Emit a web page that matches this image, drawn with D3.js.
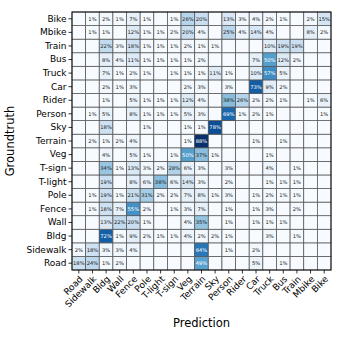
<!DOCTYPE html>
<html><head><meta charset="utf-8">
<script src="https://cdn.jsdelivr.net/npm/d3@7"></script>
<style>body{margin:0;background:#fff}svg{display:block}text{font-family:"DejaVu Sans",sans-serif}</style>
</head><body><svg id="c" width="344" height="338"></svg>
<script>
const labels = ["Road","Sidewalk","Bldg","Wall","Fence","Pole","T-light","T-sign","Veg","Terrain","Sky","Person","Rider","Car","Truck","Bus","Train","Mbike","Bike"];
// rows: groundtruth, columns: prediction (same order as labels), values in %
const rowRoad     = [18,24,1,2,0,0,0,0,0,49,0,0,0,5,0,1,0,0,0];
const rowSidewalk = [2,18,3,3,4,0,0,0,0,64,0,1,0,2,0,0,0,0,0];
const rowBldg     = [0,0,72,1,9,2,1,1,4,2,2,1,0,0,3,0,1,0,0];
const rowWall     = [0,0,13,22,20,1,0,0,4,35,0,1,0,1,1,1,0,0,0];
const rowFence    = [0,1,18,7,55,2,0,1,3,7,0,1,0,1,3,0,2,0,0];
const rowPole     = [0,1,19,1,21,31,2,2,7,8,1,3,0,1,2,1,1,0,0];
const rowTlight   = [0,0,19,0,8,6,38,6,14,3,0,2,0,0,1,1,1,0,0];
const rowTsign    = [0,0,34,1,13,3,2,28,6,3,0,3,0,0,4,0,1,0,0];
const rowVeg      = [0,0,4,0,5,1,0,1,50,37,1,0,0,0,1,0,0,0,0];
const rowTerrain  = [0,2,1,2,4,0,0,0,1,88,0,0,0,1,0,1,0,0,0];
const rowSky      = [0,0,18,0,0,1,0,0,1,1,78,0,0,0,0,0,0,0,0];
const rowPerson   = [0,1,5,0,8,1,1,1,5,3,0,69,1,2,1,0,0,0,1];
const rowRider    = [0,0,1,0,5,1,1,1,12,4,0,38,26,2,2,1,0,1,6];
const rowCar      = [0,0,2,1,3,0,0,0,2,3,0,3,0,73,9,2,0,0,0];
const rowTruck    = [0,0,7,1,2,1,0,1,1,1,11,1,0,10,57,5,0,0,0];
const rowBus      = [0,0,8,4,11,1,1,1,1,2,0,0,0,7,50,12,2,0,0];
const rowTrain    = [0,0,22,3,18,1,1,1,2,1,1,0,0,0,10,19,19,0,0];
const rowMbike    = [0,1,1,0,12,1,1,2,20,4,0,25,4,14,4,0,0,8,2];
const rowBike     = [0,1,2,1,7,1,0,1,26,20,0,13,3,4,2,1,0,2,15];
const rows = [rowRoad,rowSidewalk,rowBldg,rowWall,rowFence,rowPole,rowTlight,rowTsign,rowVeg,rowTerrain,rowSky,rowPerson,rowRider,rowCar,rowTruck,rowBus,rowTrain,rowMbike,rowBike];

const cells = [];
rows.forEach((r,i)=>r.forEach((v,j)=>cells.push({gt:labels[i],pred:labels[j],v})));
const vmax = d3.max(cells,d=>d.v);

const m = {l:72,t:12,w:259,h:258};
const svg = d3.select("#c");
const g = svg.append("g").attr("transform",`translate(${m.l},${m.t})`);
const x = d3.scaleBand().domain(labels).range([0,m.w]);
const y = d3.scaleBand().domain(labels.slice().reverse()).range([0,m.h]);
const color = v => d3.interpolateBlues(v/vmax);

g.selectAll("rect.cell").data(cells).join("rect").attr("class","cell")
 .attr("x",d=>x(d.pred)).attr("y",d=>y(d.gt))
 .attr("width",x.bandwidth()).attr("height",y.bandwidth())
 .attr("fill",d=>color(d.v)).attr("stroke","#555").attr("stroke-width",0.75);

g.selectAll("text.val").data(cells.filter(d=>d.v>0)).join("text").attr("class","val")
 .attr("x",d=>x(d.pred)+x.bandwidth()/2).attr("y",d=>y(d.gt)+y.bandwidth()/2)
 .attr("text-anchor","middle").attr("dominant-baseline","central")
 .attr("font-size",5.2).attr("fill",d=>d.v>vmax/2?"#fff":"#222")
 .text(d=>d.v+"%");

g.append("rect").attr("width",m.w).attr("height",m.h).attr("fill","none").attr("stroke","#000").attr("stroke-width",0.9);

const yAxis = g.append("g").call(d3.axisLeft(y).tickSize(3.5).tickPadding(2));
yAxis.select(".domain").remove();
yAxis.selectAll("text").attr("font-size",9).attr("fill","#000").style("font-family","DejaVu Sans");
yAxis.selectAll("line").attr("stroke","#000").attr("stroke-width",0.8);

const xAxis = g.append("g").attr("transform",`translate(0,${m.h})`).call(d3.axisBottom(x).tickSize(3.5).tickPadding(2));
xAxis.select(".domain").remove();
xAxis.selectAll("line").attr("stroke","#000").attr("stroke-width",0.8);
xAxis.selectAll("text").attr("font-size",9).attr("fill","#000").style("font-family","DejaVu Sans")
 .attr("x",0).attr("y",0).attr("text-anchor","end").attr("dy","0.72em").attr("transform","translate(0,5) rotate(-45)");

svg.append("text").attr("x",m.l+m.w/2).attr("y",327).attr("text-anchor","middle").attr("font-size",11.5).text("Prediction");
svg.append("text").attr("transform",`translate(14,${m.t+m.h/2}) rotate(-90)`).attr("text-anchor","middle").attr("font-size",11.5).text("Groundtruth");
</script></body></html>
